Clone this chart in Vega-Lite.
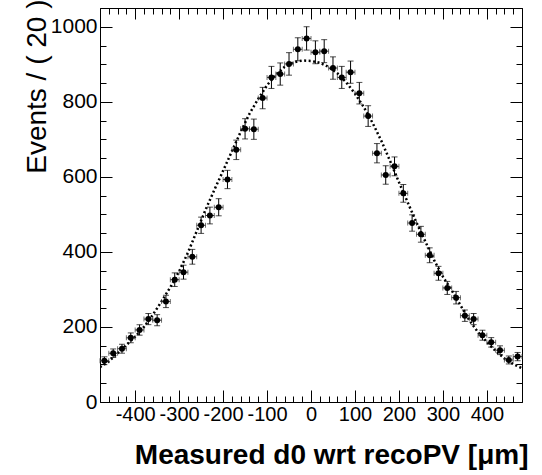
{
  "$schema": "https://vega.github.io/schema/vega-lite/v6.json",
  "width": 422,
  "height": 394,
  "autosize": "none",
  "padding": {"left": 100, "top": 8, "right": 20, "bottom": 73},
  "config": {
    "view": {"stroke": "black", "strokeWidth": 1},
    "font": "Liberation Sans",
    "axis": {"domain": false, "grid": false, "ticks": true, "zindex": 1, "tickColor": "black", "tickOpacity": 1, "tickWidth": 1, "labelColor": "black", "titleColor": "black", "labelFont": "Liberation Sans", "titleFont": "Liberation Sans", "labelOverlap": false, "labelFlush": false, "labelBound": false}
  },
  "datasets": {
    "pts": [
      {"x": -470, "n": 110, "err": 10.5, "xe": 10}, {"x": -450, "n": 130, "err": 11.4, "xe": 10}, {"x": -430, "n": 142, "err": 11.9, "xe": 10},
      {"x": -410, "n": 171, "err": 13.1, "xe": 10}, {"x": -390, "n": 192, "err": 13.9, "xe": 10}, {"x": -370, "n": 221, "err": 14.9, "xe": 10},
      {"x": -350, "n": 218, "err": 14.8, "xe": 10}, {"x": -330, "n": 268, "err": 16.4, "xe": 10}, {"x": -310, "n": 326, "err": 18.1, "xe": 10},
      {"x": -290, "n": 346, "err": 18.6, "xe": 10}, {"x": -270, "n": 387, "err": 19.7, "xe": 10}, {"x": -250, "n": 471, "err": 21.7, "xe": 10},
      {"x": -230, "n": 497, "err": 22.3, "xe": 10}, {"x": -210, "n": 519, "err": 22.8, "xe": 10}, {"x": -190, "n": 593, "err": 24.4, "xe": 10},
      {"x": -170, "n": 672, "err": 25.9, "xe": 10}, {"x": -150, "n": 728, "err": 27.0, "xe": 10}, {"x": -130, "n": 727, "err": 27.0, "xe": 10},
      {"x": -110, "n": 810, "err": 28.5, "xe": 10}, {"x": -90, "n": 865, "err": 29.4, "xe": 10}, {"x": -70, "n": 874, "err": 29.6, "xe": 10},
      {"x": -50, "n": 901, "err": 30.0, "xe": 10}, {"x": -30, "n": 940, "err": 30.7, "xe": 10}, {"x": -10, "n": 969, "err": 31.1, "xe": 10},
      {"x": 10, "n": 932, "err": 30.5, "xe": 10}, {"x": 30, "n": 935, "err": 30.6, "xe": 10}, {"x": 50, "n": 890, "err": 29.8, "xe": 10},
      {"x": 70, "n": 865, "err": 29.4, "xe": 10}, {"x": 90, "n": 879, "err": 29.6, "xe": 10}, {"x": 110, "n": 823, "err": 28.7, "xe": 10},
      {"x": 130, "n": 762, "err": 27.6, "xe": 10}, {"x": 150, "n": 663, "err": 25.7, "xe": 10}, {"x": 170, "n": 605, "err": 24.6, "xe": 10},
      {"x": 190, "n": 628, "err": 25.1, "xe": 10}, {"x": 210, "n": 556, "err": 23.6, "xe": 10}, {"x": 230, "n": 477, "err": 21.8, "xe": 10},
      {"x": 250, "n": 447, "err": 21.1, "xe": 10}, {"x": 270, "n": 391, "err": 19.8, "xe": 10}, {"x": 290, "n": 343, "err": 18.5, "xe": 10},
      {"x": 310, "n": 304, "err": 17.4, "xe": 10}, {"x": 330, "n": 278, "err": 16.7, "xe": 10}, {"x": 350, "n": 230, "err": 15.2, "xe": 10},
      {"x": 370, "n": 221, "err": 14.9, "xe": 10}, {"x": 390, "n": 178, "err": 13.3, "xe": 10}, {"x": 410, "n": 159, "err": 12.6, "xe": 10},
      {"x": 430, "n": 138, "err": 11.7, "xe": 10}, {"x": 450, "n": 112, "err": 10.6, "xe": 10}, {"x": 470, "n": 121, "err": 11.0, "xe": 10}
    ],
    "fit": [
      {"x": -480, "y": 93}, {"x": -460, "y": 108}, {"x": -440, "y": 130}, {"x": -420, "y": 152},
      {"x": -400, "y": 174}, {"x": -380, "y": 200}, {"x": -360, "y": 232}, {"x": -340, "y": 268},
      {"x": -320, "y": 306}, {"x": -300, "y": 348}, {"x": -280, "y": 398}, {"x": -260, "y": 455},
      {"x": -240, "y": 512}, {"x": -220, "y": 565}, {"x": -200, "y": 616}, {"x": -180, "y": 668},
      {"x": -160, "y": 720}, {"x": -140, "y": 768}, {"x": -120, "y": 808}, {"x": -100, "y": 844},
      {"x": -80, "y": 872}, {"x": -60, "y": 893}, {"x": -40, "y": 905}, {"x": -20, "y": 910},
      {"x": 0, "y": 909}, {"x": 20, "y": 904}, {"x": 40, "y": 893}, {"x": 60, "y": 876},
      {"x": 80, "y": 852}, {"x": 100, "y": 822}, {"x": 120, "y": 786}, {"x": 140, "y": 744},
      {"x": 160, "y": 696}, {"x": 180, "y": 642}, {"x": 200, "y": 586}, {"x": 220, "y": 532},
      {"x": 240, "y": 478}, {"x": 260, "y": 428}, {"x": 280, "y": 378}, {"x": 300, "y": 334},
      {"x": 320, "y": 298}, {"x": 340, "y": 258}, {"x": 360, "y": 218}, {"x": 380, "y": 186},
      {"x": 400, "y": 160}, {"x": 420, "y": 136}, {"x": 440, "y": 116}, {"x": 460, "y": 101},
      {"x": 480, "y": 90}
    ]
  },
  "resolve": {"axis": {"x": "independent", "y": "independent"}},
  "layer": [
    {
      "data": {"name": "fit"},
      "mark": {"type": "line", "color": "black", "strokeWidth": 2.5, "strokeDash": [2, 2.5], "strokeCap": "butt", "clip": true},
      "encoding": {
        "x": {"field": "x", "type": "quantitative", "scale": {"domain": [-480, 480], "nice": false, "zero": false},
          "axis": {"orient": "bottom", "offset": -12, "tickSize": 12,
            "tickDash": {"condition": {"test": "datum.value % 100 !== 0", "value": [0, 6, 6, 100]}, "value": [30, 1]},
            "values": [-480, -460, -440, -420, -400, -380, -360, -340, -320, -300, -280, -260, -240, -220, -200, -180, -160, -140, -120, -100, -80, -60, -40, -20, 0, 20, 40, 60, 80, 100, 120, 140, 160, 180, 200, 220, 240, 260, 280, 300, 320, 340, 360, 380, 400, 420, 440, 460, 480],
            "labelExpr": "datum.value % 100 === 0 && abs(datum.value) < 450 ? '' + datum.value : ''", "labelPadding": 2, "labelFontSize": 20, "labelBaseline": "top",
            "title": "Measured d0 wrt recoPV [μm]", "titleFontSize": 28, "titleFontWeight": "bold", "titleAnchor": "end", "titleAlign": "right", "titleBaseline": "alphabetic", "titleX": 428, "titleY": 73}},
        "y": {"field": "y", "type": "quantitative", "scale": {"domain": [0, 1050], "nice": false, "zero": false},
          "axis": {"orient": "left", "offset": -12, "tickSize": 12,
            "tickDash": {"condition": {"test": "datum.value % 200 !== 0", "value": [0, 6, 6, 100]}, "value": [30, 1]},
            "values": [0, 50, 100, 150, 200, 250, 300, 350, 400, 450, 500, 550, 600, 650, 700, 750, 800, 850, 900, 950, 1000, 1050],
            "labelExpr": "datum.value % 200 === 0 ? '' + datum.value : ''", "labelPadding": 3, "labelFontSize": 21,
            "title": "Events / ( 20 )", "titleFontSize": 28, "titleFontWeight": "normal", "titleAngle": 270, "titleAnchor": "end", "titleAlign": "right", "titleBaseline": "alphabetic", "titleX": -67, "titleY": -9}}
      }
    },
    {
      "data": {"name": "pts"},
      "mark": {"type": "errorbar", "color": "black", "thickness": 1, "ticks": {"size": 6, "color": "black"}},
      "encoding": {
        "x": {"field": "x", "type": "quantitative", "axis": null},
        "y": {"field": "n", "type": "quantitative", "axis": null},
        "yError": {"field": "err"}
      }
    },
    {
      "data": {"name": "pts"},
      "mark": {"type": "errorbar", "color": "#333333", "thickness": 1, "ticks": {"size": 5, "color": "#333333"}},
      "encoding": {
        "x": {"field": "x", "type": "quantitative", "axis": null},
        "xError": {"field": "xe"},
        "y": {"field": "n", "type": "quantitative", "axis": null}
      }
    },
    {
      "data": {"name": "pts"},
      "mark": {"type": "circle", "color": "black", "opacity": 1, "size": 36},
      "encoding": {
        "x": {"field": "x", "type": "quantitative",
          "axis": {"orient": "top", "offset": -11, "tickSize": 11, "labels": false, "title": null,
            "tickDash": {"condition": {"test": "datum.value % 100 !== 0", "value": [0, 5, 6, 100]}, "value": [30, 1]},
            "values": [-480, -460, -440, -420, -400, -380, -360, -340, -320, -300, -280, -260, -240, -220, -200, -180, -160, -140, -120, -100, -80, -60, -40, -20, 0, 20, 40, 60, 80, 100, 120, 140, 160, 180, 200, 220, 240, 260, 280, 300, 320, 340, 360, 380, 400, 420, 440, 460, 480]}},
        "y": {"field": "n", "type": "quantitative",
          "axis": {"orient": "right", "offset": -12, "tickSize": 12, "labels": false, "title": null,
            "tickDash": {"condition": {"test": "datum.value % 200 !== 0", "value": [0, 6, 6, 100]}, "value": [30, 1]},
            "values": [0, 50, 100, 150, 200, 250, 300, 350, 400, 450, 500, 550, 600, 650, 700, 750, 800, 850, 900, 950, 1000, 1050]}}
      }
    }
  ]
}
